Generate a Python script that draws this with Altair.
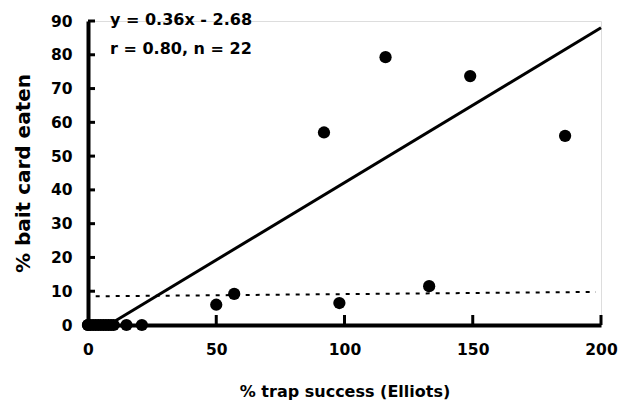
import altair as alt
import pandas as pd

# data
trap_x = [0, 0, 1, 2, 3, 4, 5, 6, 7, 8, 9, 10, 15, 21,
          50, 57, 92, 98, 116, 133, 149, 186]
bait_y = [0, 0, 0, 0, 0, 0, 0, 0, 0, 0, 0, 0, 0, 0,
          6, 9.2, 57, 6.5, 79.3, 11.5, 73.7, 56]

fit_x = [8, 200]
fit_y = [0, 88]
dash_x = [3, 198]
dash_y = [8.5, 9.8]

y_ticks = [0, 10, 20, 30, 40, 50, 60, 70, 80, 90]
x_ticks = [0, 50, 100, 150, 200]

pts = pd.DataFrame({"x": trap_x, "y": bait_y})
fit = pd.DataFrame({"x": fit_x, "y": fit_y})
dash = pd.DataFrame({"x": dash_x, "y": dash_y})
yt = pd.DataFrame({"y": y_ticks})
xt = pd.DataFrame({"x": x_ticks[1:]})
notes = pd.DataFrame({"t": ["y = 0.36x - 2.68", "r = 0.80, n = 22"], "y": [90.2, 81.8]})

FONT = "DejaVu Sans"
xs = alt.Scale(domain=[0, 200], nice=False)
ys = alt.Scale(domain=[0, 90], nice=False)

xax = alt.Axis(values=x_ticks, title="% trap success (Elliots)", grid=False,
               domainWidth=4, domainColor="black", ticks=False,
               labelPadding=17, labelFont=FONT, labelFontSize=15.5,
               labelFontWeight="bold", labelColor="black", titleFont=FONT,
               titleFontSize=16, titleFontWeight="bold", titleColor="black",
               titlePadding=26, labelFlush=False, labelOverlap=False, labelBound=False)
yax = alt.Axis(values=y_ticks, title="% bait card eaten", grid=False,
               domainWidth=4, domainColor="black", ticks=False,
               labelPadding=16, labelFont=FONT, labelFontSize=15.5,
               labelFontWeight="bold", labelColor="black", titleFont=FONT,
               titleFontSize=20, titleFontWeight="bold", titleColor="black",
               titlePadding=17, labelFlush=False, labelOverlap=False, labelBound=False)

X = alt.X("x:Q", scale=xs, axis=xax)
Y = alt.Y("y:Q", scale=ys, axis=yax)

base_pts = alt.Chart(pts).mark_circle(size=150, color="black", opacity=1, clip=False).encode(x=X, y=Y)

fit_line = alt.Chart(fit).mark_line(color="black", strokeWidth=3).encode(x=X, y=Y)

dash_line = alt.Chart(dash).mark_line(color="black", strokeWidth=2, strokeDash=[4, 6]).encode(x=X, y=Y)

yticks = alt.Chart(yt).mark_rule(color="black", strokeWidth=3).encode(
    x=alt.value(0), x2=alt.value(7), y=Y)

xticks = alt.Chart(xt).mark_rule(color="black", strokeWidth=3).encode(
    x=X, y=alt.value(304), y2=alt.value(294))

txt = alt.Chart(notes).mark_text(align="left", baseline="middle", font=FONT,
                                 fontSize=16, fontWeight="bold", color="black", dx=22).encode(
    x=alt.value(0), y=Y, text="t:N")

chart = alt.layer(dash_line, fit_line, yticks, xticks, base_pts, txt).properties(
    width=513, height=304,
    autosize=alt.AutoSizeParams(type="none"),
    padding={"left": 80, "top": 13, "right": 17, "bottom": 77},
).configure_view(stroke=None).configure(background="white")

chart.save("out.html", embed_options={"renderer": "svg", "actions": False})
